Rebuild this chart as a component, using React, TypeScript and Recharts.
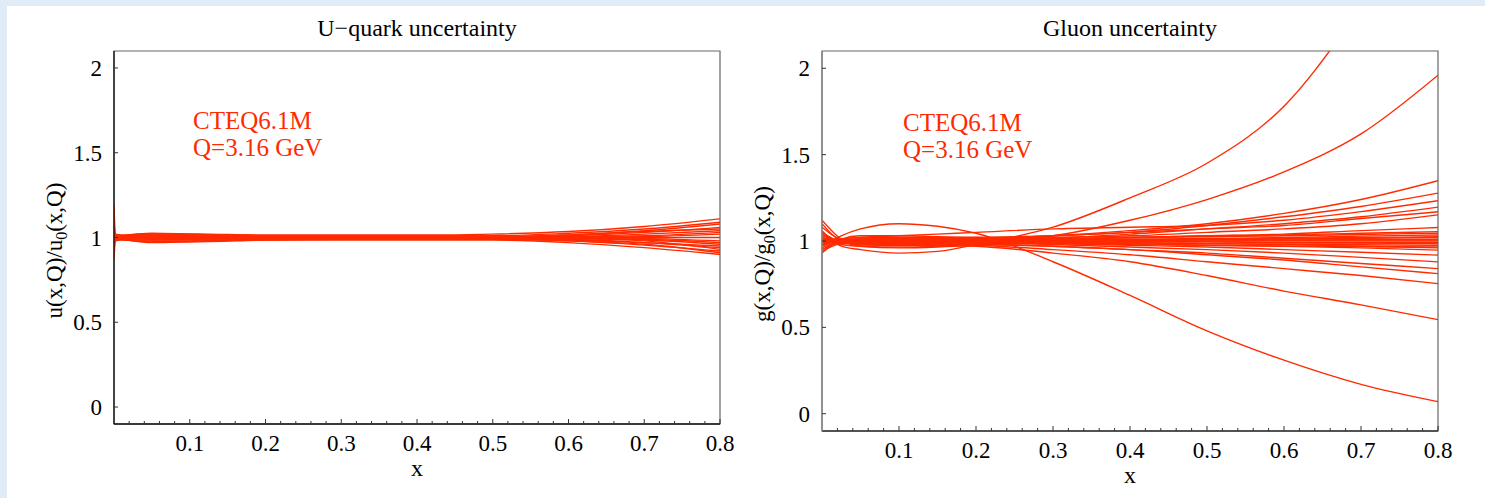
import React from "react";
import { Label, Line, LineChart, ReferenceArea, XAxis, YAxis } from "recharts";

const FONT = '"Liberation Serif", "Times New Roman", serif';
const RED = "#ff2a00";

// u-quark error-set ratios, sampled on uX
const uX = [0, 0.002, 0.01, 0.05, 0.1, 0.2, 0.3, 0.4, 0.5, 0.6, 0.7, 0.8];
const u01 = [1.19, 1.02, 1.015, 1.02, 1.02, 1.015, 1.015, 1.015, 1.02, 1.035, 1.065, 1.11];
const u02 = [0.87, 0.98, 0.985, 0.98, 0.98, 0.985, 0.985, 0.985, 0.985, 0.97, 0.94, 0.9];
const u03 = [1.1, 1.01, 1.01, 1.015, 1.015, 1.01, 1.01, 1.01, 1.01, 1.025, 1.05, 1.09];
const u04 = [0.92, 0.99, 0.99, 0.985, 0.985, 0.99, 0.99, 0.99, 0.99, 0.98, 0.955, 0.92];
const u05 = [1.05, 1.0, 1.01, 1.025, 1.02, 1.01, 1.01, 1.005, 1.005, 1.015, 1.04, 1.08];
const u06 = [0.96, 1.0, 0.99, 0.975, 0.975, 0.985, 0.99, 0.99, 0.995, 0.99, 0.97, 0.94];
const u07 = [1.02, 1.0, 1.005, 1.01, 1.01, 1.005, 1.005, 1.005, 1.0, 1.01, 1.03, 1.06];
const u08 = [0.98, 1.0, 0.995, 0.99, 0.99, 0.995, 0.995, 0.995, 0.995, 0.985, 0.97, 0.95];
const u09 = [1.0, 1.0, 1.0, 1.0, 1.0, 1.0, 1.0, 1.0, 1.0, 1.005, 1.02, 1.04];
const u10 = [1.03, 1.0, 1.0, 1.0, 1.0, 1.0, 1.0, 1.0, 1.0, 0.995, 0.985, 0.96];
const u11 = [0.99, 1.0, 1.0, 1.005, 1.005, 1.005, 1.0, 1.0, 1.0, 1.005, 1.01, 1.03];
const u12 = [1.01, 1.0, 1.0, 0.995, 0.995, 0.995, 1.0, 1.0, 1.0, 0.995, 0.99, 0.97];
const u13 = [1.0, 1.0, 1.0, 1.0, 1.0, 1.0, 1.0, 1.0, 1.0, 1.0, 1.005, 1.02];
const u14 = [1.0, 1.0, 1.0, 1.0, 1.0, 1.0, 1.0, 1.0, 1.0, 1.0, 0.995, 0.98];
const u15 = [1.07, 1.01, 1.0, 1.0, 1.0, 1.0, 1.0, 1.0, 1.0, 1.0, 1.0, 1.0];
const u16 = [0.94, 0.995, 0.99, 0.97, 0.975, 0.99, 0.995, 0.995, 1.0, 0.995, 0.98, 0.93];
const u17 = [1.0, 1.0, 1.005, 1.02, 1.02, 1.01, 1.005, 1.005, 1.005, 1.015, 1.035, 1.05];
const u18 = [1.0, 1.0, 1.0, 1.0, 0.99, 0.995, 1.0, 1.0, 0.995, 0.98, 0.96, 0.91];
const uCurves = [u01, u02, u03, u04, u05, u06, u07, u08, u09, u10, u11, u12, u13, u14, u15, u16, u17, u18];

// gluon error-set ratios, sampled on gX
const gX = [0, 0.025, 0.05, 0.1, 0.15, 0.2, 0.3, 0.4, 0.5, 0.6, 0.7, 0.8];
const g01 = [1.06, 0.97, 0.95, 0.93, 0.94, 0.98, 1.08, 1.25, 1.45, 1.78, 2.35, 3.0];
const g02 = [0.98, 1.0, 1.01, 1.0, 0.99, 1.0, 1.03, 1.12, 1.24, 1.4, 1.62, 1.96];
const g03 = [0.97, 1.03, 1.07, 1.1, 1.085, 1.045, 0.88, 0.685, 0.48, 0.31, 0.17, 0.07];
const g04 = [1.02, 0.99, 0.98, 0.975, 0.975, 0.97, 0.93, 0.88, 0.8, 0.71, 0.63, 0.545];
const g05 = [0.95, 0.99, 0.99, 0.985, 0.98, 0.975, 0.95, 0.92, 0.88, 0.84, 0.8, 0.753];
const g06 = [1.0, 1.0, 1.0, 0.99, 0.99, 0.985, 0.97, 0.95, 0.92, 0.89, 0.85, 0.811];
const g07 = [1.03, 1.0, 0.99, 0.985, 0.985, 0.98, 0.97, 0.95, 0.93, 0.9, 0.87, 0.84];
const g08 = [0.99, 1.0, 1.0, 1.0, 0.995, 0.99, 0.98, 0.965, 0.95, 0.93, 0.905, 0.879];
const g09 = [1.01, 1.0, 0.995, 0.99, 0.99, 0.99, 0.985, 0.975, 0.965, 0.95, 0.935, 0.918];
const g10 = [0.96, 1.0, 1.01, 1.015, 1.01, 1.005, 0.99, 0.985, 0.975, 0.97, 0.96, 0.947];
const g11 = [1.12, 1.01, 0.97, 0.96, 0.965, 0.975, 0.99, 0.99, 0.985, 0.98, 0.97, 0.96];
const g12 = [1.0, 0.99, 0.98, 0.975, 0.98, 0.985, 0.99, 0.99, 0.985, 0.98, 0.978, 0.975];
const g13 = [0.98, 1.01, 1.02, 1.02, 1.015, 1.01, 1.0, 0.995, 0.995, 0.99, 0.99, 0.99];
const g14 = [1.0, 1.0, 1.0, 1.0, 1.0, 1.0, 1.0, 1.0, 1.0, 1.0, 1.0, 1.0];
const g15 = [1.04, 0.99, 0.985, 0.98, 0.985, 0.99, 1.0, 1.0, 1.005, 1.005, 1.008, 1.01];
const g16 = [0.93, 1.01, 1.03, 1.03, 1.025, 1.02, 1.01, 1.005, 1.01, 1.012, 1.015, 1.02];
const g17 = [1.01, 0.98, 0.97, 0.965, 0.97, 0.98, 0.995, 1.01, 1.015, 1.02, 1.028, 1.035];
const g18 = [1.0, 0.995, 0.99, 0.985, 0.99, 1.0, 1.01, 1.02, 1.025, 1.03, 1.038, 1.045];
const g19 = [1.0, 1.0, 1.0, 1.01, 1.01, 1.01, 1.015, 1.02, 1.03, 1.035, 1.045, 1.054];
const g20 = [1.08, 1.01, 1.0, 1.0, 1.005, 1.01, 1.01, 1.02, 1.03, 1.04, 1.06, 1.078];
const g21 = [1.0, 1.0, 1.0, 1.01, 1.01, 1.01, 1.02, 1.03, 1.05, 1.07, 1.1, 1.151];
const g22 = [0.99, 1.0, 1.0, 1.0, 1.01, 1.02, 1.03, 1.05, 1.07, 1.09, 1.13, 1.169];
const g23 = [1.0, 1.005, 1.01, 1.02, 1.02, 1.02, 1.02, 1.04, 1.07, 1.1, 1.14, 1.196];
const g24 = [0.97, 1.01, 1.02, 1.03, 1.04, 1.05, 1.07, 1.08, 1.09, 1.12, 1.17, 1.233];
const g25 = [1.02, 1.0, 1.0, 1.0, 1.0, 1.01, 1.03, 1.05, 1.09, 1.14, 1.2, 1.277];
const g26 = [1.0, 0.99, 0.99, 0.99, 1.0, 1.01, 1.03, 1.06, 1.1, 1.16, 1.24, 1.349];
const g27 = [1.05, 1.0, 1.0, 1.005, 1.01, 1.01, 1.01, 1.0, 0.995, 0.99, 0.988, 0.985];
const g28 = [0.94, 0.985, 0.99, 0.995, 1.0, 1.005, 1.005, 1.01, 1.008, 1.006, 1.005, 1.005];
const g29 = [1.0, 1.005, 1.01, 1.01, 1.005, 1.0, 1.0, 1.005, 1.01, 1.015, 1.02, 1.025];
const g30 = [1.1, 1.0, 0.98, 0.985, 0.99, 0.99, 0.985, 0.98, 0.975, 0.97, 0.968, 0.965];
const gCurves = [
  g01, g02, g03, g04, g05, g06, g07, g08, g09, g10, g11, g12, g13, g14, g15,
  g16, g17, g18, g19, g20, g21, g22, g23, g24, g25, g26, g27, g28, g29, g30,
];

const yTicks = [0, 0.5, 1, 1.5, 2];
const yTickLabels = ["0", "0.5", "1", "1.5", "2"];
const xMajorTicks = [0.1, 0.2, 0.3, 0.4, 0.5, 0.6, 0.7, 0.8];
const xTickLabels = ["0.1", "0.2", "0.3", "0.4", "0.5", "0.6", "0.7", "0.8"];
const xMinorTicks = [
  0.02, 0.04, 0.06, 0.08, 0.12, 0.14, 0.16, 0.18, 0.22, 0.24, 0.26, 0.28,
  0.32, 0.34, 0.36, 0.38, 0.42, 0.44, 0.46, 0.48, 0.52, 0.54, 0.56, 0.58,
  0.62, 0.64, 0.66, 0.68, 0.72, 0.74, 0.76, 0.78,
];
const xAllTicks = [...xMinorTicks, ...xMajorTicks].sort((a, b) => a - b);

const buildRows = (xs: number[], curves: number[][]) =>
  xs.map((x, i) => {
    const row: Record<string, number> = { x };
    curves.forEach((c, k) => (row[`c${k}`] = c[i]));
    return row;
  });

const uRows = buildRows(uX, uCurves);
const gRows = buildRows(gX, gCurves);

const XTick = (props: any) => {
  const { x, y, payload } = props;
  const i = xMajorTicks.findIndex((t) => Math.abs(t - payload.value) < 1e-9);
  if (i < 0) return <line x1={x} x2={x} y1={y} y2={y - 3} stroke="#333" />;
  return (
    <g>
      <line x1={x} x2={x} y1={y} y2={y - 5} stroke="#333" />
      <text x={x} y={y + 27} textAnchor="middle" fontFamily={FONT} fontSize={23} fill="#000">
        {xTickLabels[i]}
      </text>
    </g>
  );
};

const YTick = (props: any) => {
  const { x, y, payload } = props;
  const i = yTicks.indexOf(payload.value);
  return (
    <g>
      <line x1={x} x2={x + 4} y1={y} y2={y} stroke="#333" />
      <text x={x - 12} y={y + 8} textAnchor="end" fontFamily={FONT} fontSize={23} fill="#000">
        {yTickLabels[i]}
      </text>
    </g>
  );
};

interface PanelProps {
  rows: Record<string, number>[];
  count: number;
  width: number;
  height: number;
  margin: { top: number; right: number; bottom: number; left: number };
  leftColor: string;
  bottomColor: string;
  fn: string;
}

const Panel = ({ rows, count, width, height, margin, leftColor, bottomColor, fn }: PanelProps) => (
  <LineChart width={width} height={height} data={rows} margin={margin}>
    <ReferenceArea x1={0} x2={0.8} y1={-0.1} y2={2.1} fill="none" stroke="#666" strokeWidth={1.2} />
    <XAxis
      type="number"
      dataKey="x"
      domain={[0, 0.8]}
      ticks={xAllTicks}
      interval={0}
      height={30}
      tickSize={0}
      tickMargin={0}
      tickLine={false}
      tick={<XTick />}
      axisLine={{ stroke: bottomColor, strokeWidth: 1.3 }}
      allowDataOverflow
    >
      <Label
        content={(p: any) => (
          <text
            x={p.viewBox.x + p.viewBox.width / 2}
            y={p.viewBox.y + 52}
            textAnchor="middle"
            fontFamily={FONT}
            fontSize={24}
            fill="#000"
          >
            x
          </text>
        )}
      />
    </XAxis>
    <YAxis
      type="number"
      domain={[-0.1, 2.1]}
      ticks={yTicks}
      interval={0}
      width={60}
      tickSize={0}
      tickMargin={0}
      tickLine={false}
      tick={<YTick />}
      axisLine={{ stroke: leftColor, strokeWidth: 1.3 }}
      allowDataOverflow
    >
      <Label
        content={(p: any) => {
          const cx = p.viewBox.x + p.viewBox.width - 52;
          const cy = p.viewBox.y + p.viewBox.height / 2 + 13;
          return (
            <text
              transform={`rotate(-90 ${cx} ${cy})`}
              x={cx}
              y={cy}
              textAnchor="middle"
              fontFamily={FONT}
              fontSize={23}
              fill="#000"
            >
              {fn}(x,Q)/{fn}
              <tspan fontSize={16} dy={5}>0</tspan>
              <tspan dy={-5}>(x,Q)</tspan>
            </text>
          );
        }}
      />
    </YAxis>
    {Array.from({ length: count }, (_, k) => (
      <Line
        key={k}
        dataKey={`c${k}`}
        type="monotone"
        stroke={RED}
        strokeWidth={1.4}
        dot={false}
        activeDot={false}
        isAnimationActive={false}
      />
    ))}
  </LineChart>
);

const titleStyle: React.CSSProperties = {
  position: "absolute",
  top: 16,
  width: 400,
  textAlign: "center",
  fontFamily: FONT,
  fontSize: 24,
  lineHeight: "24px",
  color: "#000",
  whiteSpace: "nowrap",
};

const noteStyle: React.CSSProperties = {
  position: "absolute",
  fontFamily: FONT,
  fontSize: 25,
  lineHeight: "27.4px",
  color: RED,
  whiteSpace: "nowrap",
};

export default function App() {
  return (
    <div style={{ position: "fixed", left: 0, top: 0, width: 1485, height: 498, background: "#e0ebf8" }}>
      <div style={{ position: "absolute", left: 7, top: 6, right: 0, bottom: 0, background: "#fff" }} />
      <div style={{ position: "absolute", left: 0, top: 0 }}>
        <Panel
          rows={uRows}
          count={uCurves.length}
          width={740}
          height={498}
          margin={{ top: 51, right: 20, bottom: 44, left: 54 }}
          leftColor="#111"
          bottomColor="#111"
          fn="u"
        />
      </div>
      <div style={{ position: "absolute", left: 740, top: 0 }}>
        <Panel
          rows={gRows}
          count={gCurves.length}
          width={745}
          height={498}
          margin={{ top: 51, right: 47, bottom: 37, left: 22 }}
          leftColor="#888"
          bottomColor="#333"
          fn="g"
        />
      </div>
      <div style={{ ...titleStyle, left: 217 }}>U−quark uncertainty</div>
      <div style={{ ...titleStyle, left: 930 }}>Gluon uncertainty</div>
      <div style={{ ...noteStyle, left: 193, top: 107 }}>
        CTEQ6.1M
        <br />
        Q=3.16 GeV
      </div>
      <div style={{ ...noteStyle, left: 903, top: 109 }}>
        CTEQ6.1M
        <br />
        Q=3.16 GeV
      </div>
    </div>
  );
}
